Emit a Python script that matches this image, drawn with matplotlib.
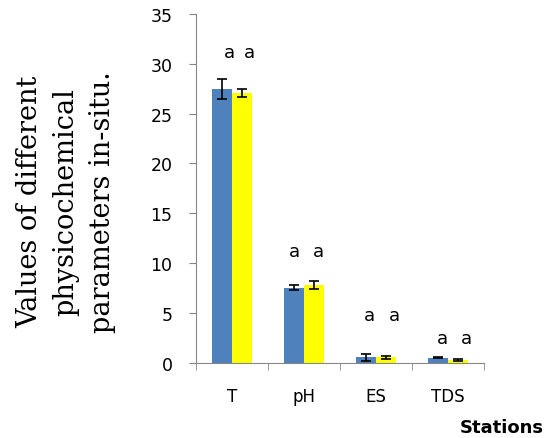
import numpy as np
import matplotlib.pyplot as plt

params = ['T', 'pH', 'ES', 'TDS']
serie1 = [27.5, 7.55, 0.55, 0.5]
serie2 = [27.05, 7.85, 0.55, 0.3]
erro1 = [1.0, 0.25, 0.35, 0.05]
erro2 = [0.42, 0.4, 0.15, 0.12]
letras1 = ['a', 'a', 'a', 'a']
letras2 = ['a', 'a', 'a', 'a']
altura_letras = [31.2, 11.2, 4.8, 2.5]

fig = plt.figure(figsize=(5.49, 4.39), dpi=100)
ax = fig.add_axes([0.357, 0.171, 0.525, 0.795])

x = np.arange(len(params))
w = 0.28
ax.bar(x - w/2, serie1, w, color='#4F81BD', zorder=2)
ax.bar(x + w/2, serie2, w, color='#FFFF00', zorder=2)
ax.errorbar(x - w/2, serie1, yerr=erro1, fmt='none', ecolor='black', elinewidth=1.2, capsize=3.5, capthick=1.2, zorder=3)
ax.errorbar(x + w/2, serie2, yerr=erro2, fmt='none', ecolor='black', elinewidth=1.2, capsize=3.5, capthick=1.2, zorder=3)

# letras ligeiramente deslocadas como no original
desloc1 = [0.11, 0.0, 0.05, 0.06]
desloc2 = [0.10, 0.06, 0.12, 0.12]
for i in range(len(params)):
  ax.text(x[i] - w/2 + desloc1[i], altura_letras[i], letras1[i], ha='center', va='center', fontsize=13)
  ax.text(x[i] + w/2 + desloc2[i], altura_letras[i], letras2[i], ha='center', va='center', fontsize=13)

ax.set_xlim(-0.5, 3.5)
ax.set_ylim(0, 35)
ax.set_yticks(range(0, 36, 5))
ax.set_xticks(x)
ax.set_xticklabels(params, fontsize=12)
ax.set_xticks(np.arange(-0.5, 4, 1), minor=True)
ax.tick_params(axis='x', which='major', length=0, pad=17)
ax.tick_params(axis='x', which='minor', length=5, color='#868686')
ax.tick_params(axis='y', length=5, color='#868686', labelsize=12.5, pad=12)

ax.spines['right'].set_color('none')
ax.spines['top'].set_color('none')
ax.spines['left'].set_color('#868686')
ax.spines['bottom'].set_color('#868686')

fig.text(0.12, 0.54, 'Values of different\nphysicochemical\nparameters in-situ.', rotation=90,
         ha='center', va='center', multialignment='center', family='DejaVu Serif',
         fontsize=19.5, linespacing=1.45)
fig.text(0.99, 0.025, 'Stations', ha='right', va='center', fontsize=13, fontweight='bold')

plt.savefig('out.png', dpi=100)
